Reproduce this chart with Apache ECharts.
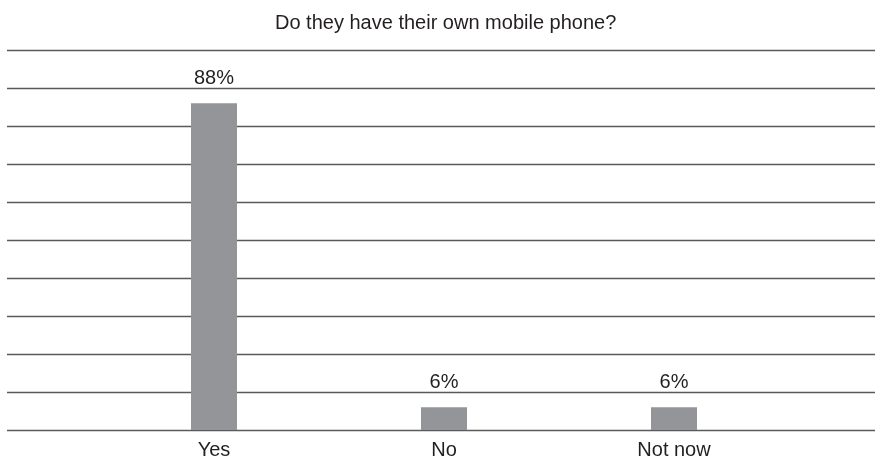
<!DOCTYPE html>
<html>
<head>
<meta charset="utf-8">
<script src="https://cdn.jsdelivr.net/npm/echarts@6/dist/echarts.min.js"></script>
<style>html,body{margin:0;padding:0;background:#fff;}#c{width:875px;height:461px;}</style>
</head>
<body>
<div id="c"></div>
<script>
var titleText = 'Do they have their own mobile phone?';
var categories = ['Yes', 'No', 'Not now'];
var values = [86, 6, 6];
var valueLabels = ['88%', '6%', '6%'];
var yMin = 0, yMax = 100, yInterval = 10;

var chart = echarts.init(document.getElementById('c'));
var font = 'Liberation Sans, Arial, sans-serif';
chart.setOption({
  animation: false,
  title: {
    text: titleText, left: 270, top: 8,
    textStyle: { fontFamily: font, fontSize: 20, fontWeight: 'normal', color: '#231f20' }
  },
  grid: [
    { left: 7, right: 0, top: 50, bottom: 31 },
    { left: 99, width: 690, top: 50, bottom: 31 }
  ],
  xAxis: [
    { gridIndex: 0, type: 'category', data: categories, show: false },
    { gridIndex: 1, type: 'category', data: categories,
      axisLine: { show: false }, axisTick: { show: false },
      axisLabel: { fontFamily: font, fontSize: 20, color: '#231f20', margin: 10 } }
  ],
  yAxis: [
    { gridIndex: 0, type: 'value', min: yMin, max: yMax, interval: yInterval,
      axisLabel: { show: false }, axisLine: { show: false }, axisTick: { show: false },
      splitLine: { lineStyle: { color: '#5a5a5a', width: 1.3 } } },
    { gridIndex: 1, type: 'value', min: yMin, max: yMax, interval: yInterval, show: false,
      splitLine: { show: false } }
  ],
  series: [{
    type: 'bar', xAxisIndex: 1, yAxisIndex: 1, data: values, barWidth: 46,
    itemStyle: { color: '#939598' },
    label: {
      show: true, position: 'top', distance: 15,
      fontFamily: font, fontSize: 20, color: '#231f20',
      formatter: function (p) { return valueLabels[p.dataIndex]; }
    }
  }]
});
</script>
</body>
</html>
